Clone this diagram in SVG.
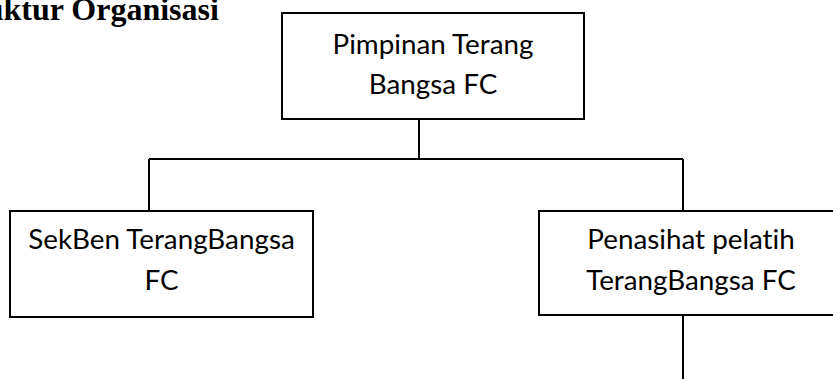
<svg xmlns="http://www.w3.org/2000/svg" width="833" height="379" viewBox="0 0 833 379">
<style>
.box{fill:#fff;stroke:#000;stroke-width:2}
.lbl{font-family:Lato,"Open Sans","Liberation Sans",sans-serif;font-size:27.8px;fill:#000;text-anchor:middle;font-variant-ligatures:none;font-feature-settings:"liga" 0}
.title{font-family:"Liberation Serif",serif;font-weight:bold;font-size:32px;fill:#000}
.conn{fill:none;stroke:#000;stroke-width:2}
</style>
<rect width="833" height="379" fill="#fff"/>
<text class="title" x="-57" y="20">Struktur Organisasi</text>
<g id="connectors">
<path class="conn" d="M419 119 V159 M149 159 H683 M149 159 V211 M683 159 V211 M683 315 V379"/>
</g>
<g id="pimpinan">
<rect class="box" x="282" y="13" width="302" height="106"/>
<text class="lbl" x="433" y="54">Pimpinan Terang</text>
<text class="lbl" x="433" y="94">Bangsa FC</text>
</g>
<g id="sekben">
<rect class="box" x="10" y="211" width="303" height="106"/>
<text class="lbl" x="161.5" y="249">SekBen TerangBangsa</text>
<text class="lbl" x="161.5" y="290">FC</text>
</g>
<g id="penasihat">
<rect class="box" x="539" y="211" width="305" height="104"/>
<text class="lbl" x="691" y="249">Penasihat pelatih</text>
<text class="lbl" x="691" y="290">TerangBangsa FC</text>
</g>
</svg>
